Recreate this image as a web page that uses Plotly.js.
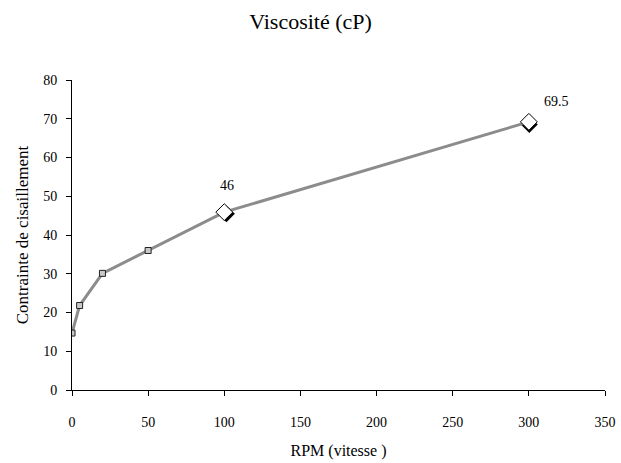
<!DOCTYPE html>
<html>
<head>
<meta charset="utf-8">
<script src="https://cdn.plot.ly/plotly-3.0.1.min.js"></script>
<style>html,body{margin:0;padding:0;background:#fff}#chart{width:621px;height:463px}</style>
</head>
<body>
<div id="chart"></div>
<script>
const rpm = [0, 5, 20, 50, 100, 300];
const contrainte = [14.7, 21.8, 30.1, 36, 45.9, 69.2];
const labelledIdx = [4, 5];
const labelText = ["46", "69.5"];
const xTicks = [0, 50, 100, 150, 200, 250, 300, 350];
const yTicks = [0, 10, 20, 30, 40, 50, 60, 70, 80];

const W = 621, H = 463;
const m = {l: 72, r: 16, t: 80, b: 73};
const pw = W - m.l - m.r, ph = H - m.t - m.b;
const dx = 3 / pw, dy = 3 / ph;

const bigX = labelledIdx.map(i => rpm[i]);
const bigY = labelledIdx.map(i => contrainte[i]);
const smallX = rpm.filter((_, i) => !labelledIdx.includes(i));
const smallY = contrainte.filter((_, i) => !labelledIdx.includes(i));

const font = "'Liberation Serif', 'Times New Roman', serif";

const traces = [
  {x: bigX, y: bigY, xaxis: 'x', yaxis: 'y', mode: 'markers', type: 'scatter',
   marker: {symbol: 'diamond', size: 13, color: '#000', line: {width: 0}}, hoverinfo: 'skip'},
  {x: rpm, y: contrainte, xaxis: 'x2', yaxis: 'y2', mode: 'lines', type: 'scatter',
   line: {color: '#8c8c8c', width: 3}, hoverinfo: 'skip'},
  {x: smallX, y: smallY, xaxis: 'x2', yaxis: 'y2', mode: 'markers', type: 'scatter',
   marker: {symbol: 'square', size: 6, color: '#c8c8c8', line: {color: '#222', width: 1}}},
  {x: bigX, y: bigY, xaxis: 'x2', yaxis: 'y2', mode: 'markers', type: 'scatter',
   marker: {symbol: 'diamond', size: 13, color: '#fff', line: {color: '#000', width: 1}}}
];

const annotations = labelledIdx.map((i, k) => ({
  x: rpm[i], y: contrainte[i], xref: 'x2', yref: 'y2', text: labelText[k], showarrow: false,
  xshift: k === 0 ? 3 : 28, yshift: k === 0 ? 27 : 20,
  font: {family: font, size: 14, color: '#000'}
}));

const layout = {
  width: W, height: H, margin: m,
  paper_bgcolor: '#fff', plot_bgcolor: 'rgba(0,0,0,0)', showlegend: false,
  font: {family: font, color: '#000'},
  title: {text: 'Viscosité (cP)', font: {family: font, size: 22, color: '#000'}, x: 0.5, xanchor: 'center', y: 0.955, yanchor: 'middle'},
  xaxis: {range: [0, 350], domain: [dx, 1 + dx], anchor: 'y', visible: false},
  yaxis: {range: [0, 80], domain: [-dy, 1 - dy], anchor: 'x', visible: false},
  xaxis2: {range: [0, 350], tickvals: xTicks, ticktext: xTicks.map(String), showgrid: false, zeroline: false,
    anchor: 'y2', showline: true, linecolor: '#000', linewidth: 1, ticks: 'outside', ticklen: 5, tickcolor: '#000',
    ticklabelstandoff: 14,
    tickfont: {family: font, size: 14}, domain: [0, 1],
    title: {text: 'RPM (vitesse )', font: {family: font, size: 16}, standoff: 16}},
  yaxis2: {range: [0, 80], tickvals: yTicks, ticktext: yTicks.map(String), showgrid: false, zeroline: false,
    anchor: 'x2', showline: true, linecolor: '#000', linewidth: 1, ticks: 'outside', ticklen: 5, tickcolor: '#000',
    ticklabelstandoff: 6,
    tickfont: {family: font, size: 14}, domain: [0, 1],
    title: {text: 'Contrainte de cisaillement', font: {family: font, size: 17}, standoff: 10}},
  annotations: annotations
};

Plotly.newPlot('chart', traces, layout, {staticPlot: true, displayModeBar: false});
</script>
</body>
</html>
